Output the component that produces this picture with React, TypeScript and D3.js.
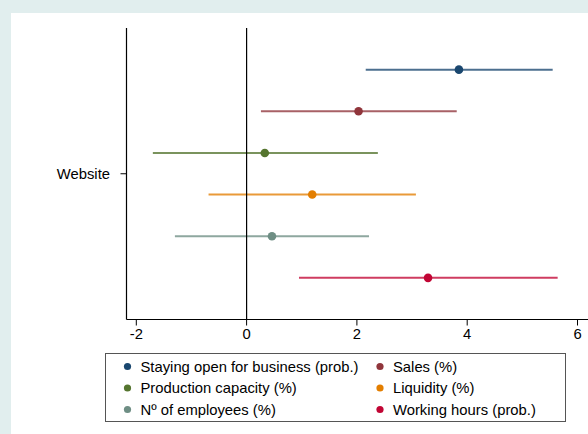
import React from "react";
import * as d3 from "d3";

const W = 588;
const H = 434;

const seriesNames = [
  "Staying open for business (prob.)",
  "Sales (%)",
  "Production capacity (%)",
  "Liquidity (%)",
  "Nº of employees (%)",
  "Working hours (prob.)",
];
const seriesColors = ["#1a476f", "#90353b", "#55752f", "#e37e00", "#6e8e84", "#c10534"];
const estimates = [3.85, 2.03, 0.33, 1.19, 0.46, 3.29];
const lowerCI = [2.16, 0.26, -1.70, -0.69, -1.30, 0.95];
const upperCI = [5.55, 3.81, 2.38, 3.07, 2.22, 5.64];
const xTicks = [-2, 0, 2, 4, 6];
const rowLabel = "Website";

const FONT = "'Liberation Sans', Arial, Helvetica, sans-serif";

export default function App() {
  const plotLeft = 126.5;
  const plotTop = 28;
  const plotBottom = 319.5;
  const x = d3.scaleLinear().domain([0, 2]).range([246.6, 356.9]);
  const y = d3
    .scalePoint<string>()
    .domain(seriesNames)
    .range([plotTop, plotBottom])
    .padding(1);

  const legendX = 105.5;
  const legendY = 353.5;
  const legendW = 460;
  const legendH = 68;
  const colX = [127.5, 380];
  const rowY = [366.5, 388, 409.5];

  return (
    <svg
      width={W}
      height={H}
      style={{ position: "fixed", left: 0, top: 0, display: "block" }}
      fontFamily={FONT}
    >
      <rect x={0} y={0} width={W} height={H} fill="#e1eeee" />
      <rect x={11} y={13} width={W - 11} height={H - 13} fill="#ffffff" />

      {/* confidence intervals and point estimates */}
      {seriesNames.map((name, i) => (
        <g key={name}>
          <line
            x1={x(lowerCI[i])}
            x2={x(upperCI[i])}
            y1={y(name)}
            y2={y(name)}
            stroke={seriesColors[i]}
            strokeOpacity={0.78}
            strokeWidth={2}
          />
          <circle cx={x(estimates[i])} cy={y(name)} r={4.3} fill={seriesColors[i]} />
        </g>
      ))}

      {/* reference line at zero */}
      <line x1={x(0)} x2={x(0)} y1={plotTop} y2={plotBottom} stroke="#000" strokeWidth={1.2} />

      {/* y axis */}
      <line x1={plotLeft} x2={plotLeft} y1={plotTop} y2={plotBottom} stroke="#000" strokeWidth={1.2} />
      <line
        x1={plotLeft - 6}
        x2={plotLeft}
        y1={(plotTop + plotBottom) / 2}
        y2={(plotTop + plotBottom) / 2}
        stroke="#000"
        strokeWidth={1}
      />
      <text
        x={plotLeft - 16.5}
        y={(plotTop + plotBottom) / 2}
        dy="0.35em"
        textAnchor="end"
        fontSize={14.8}
        fill="#000"
      >
        {rowLabel}
      </text>

      {/* x axis */}
      <line x1={plotLeft} x2={W} y1={plotBottom} y2={plotBottom} stroke="#000" strokeWidth={1.2} />
      {xTicks.map((t) => (
        <g key={t}>
          <line x1={x(t)} x2={x(t)} y1={plotBottom} y2={plotBottom + 6} stroke="#000" strokeWidth={1} />
          <text x={x(t)} y={338.5} textAnchor="middle" fontSize={14.8} fill="#000">
            {t}
          </text>
        </g>
      ))}

      {/* legend */}
      <rect
        x={legendX}
        y={legendY}
        width={legendW}
        height={legendH}
        fill="#fff"
        stroke="#555"
        strokeWidth={1}
      />
      {seriesNames.map((name, i) => {
        const cx = colX[i % 2];
        const cy = rowY[Math.floor(i / 2)];
        return (
          <g key={"lg" + name}>
            <circle cx={cx} cy={cy} r={3.6} fill={seriesColors[i]} />
            <text x={cx + 13} y={cy} dy="0.35em" fontSize={14.8} fill="#000">
              {name}
            </text>
          </g>
        );
      })}
    </svg>
  );
}
